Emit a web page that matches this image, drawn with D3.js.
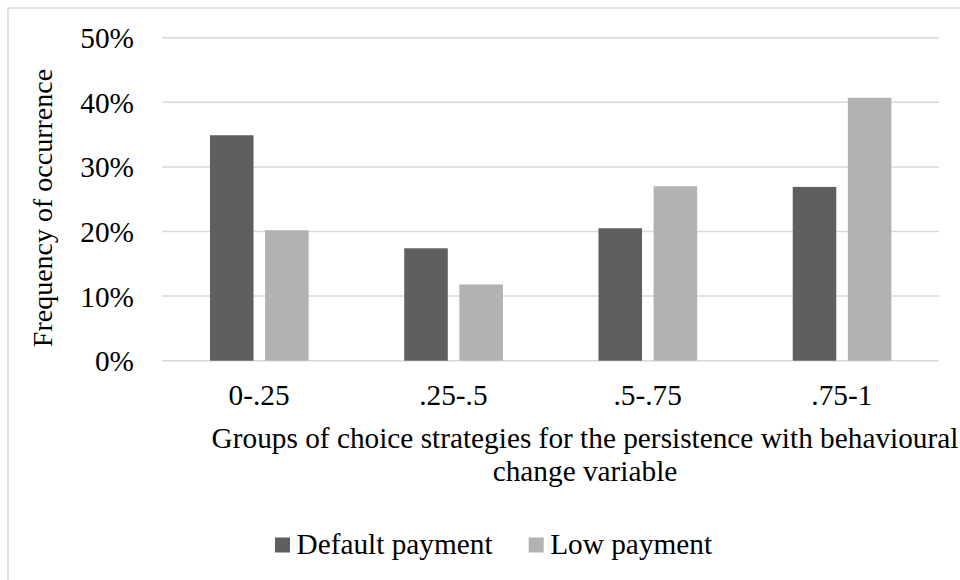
<!DOCTYPE html>
<html>
<head>
<meta charset="utf-8">
<script src="https://cdn.jsdelivr.net/npm/d3@7"></script>
<style>
  html, body { margin: 0; padding: 0; background: #fff; }
  svg text { font-family: "Liberation Serif", "Times New Roman", serif; fill: #000; }
</style>
</head>
<body>
<svg id="chart" width="960" height="580"></svg>
<script>
const categories = ["0-.25", ".25-.5", ".5-.75", ".75-1"];
const seriesNames = ["Default payment", "Low payment"];
const defaultPayment = [0.349, 0.174, 0.205, 0.269];
const lowPayment = [0.202, 0.118, 0.270, 0.407];
const yTicks = [0, 0.1, 0.2, 0.3, 0.4, 0.5];
const colors = ["#5f5f5f", "#b2b2b2"];
const yTitle = "Frequency of occurrence";
const xTitleLines = ["Groups of choice strategies for the persistence with behavioural", "change variable"];

const svg = d3.select("#chart");
const FS = 29.3;

// outer chart border
svg.append("rect")
  .attr("x", 8).attr("y", 8).attr("width", 1000).attr("height", 620)
  .attr("fill", "none").attr("stroke", "#d9d9d9").attr("stroke-width", 1.5);

const plot = { left: 162, right: 939, top: 37.7, bottom: 360.7 };

const y = d3.scaleLinear().domain([0, 0.5]).range([plot.bottom, plot.top]);
const x0 = d3.scaleBand().domain(categories).range([plot.left, plot.right]).paddingInner(0).paddingOuter(0);
const bw = x0.bandwidth();
const x1 = d3.scaleBand().domain(seriesNames).range([0.247 * bw, 0.755 * bw]).paddingInner(0.21).paddingOuter(0);
const color = d3.scaleOrdinal().domain(seriesNames).range(colors);

// gridlines
const yAxis = d3.axisLeft(y).tickValues(yTicks).tickFormat(d3.format(".0%")).tickSize(0).tickPadding(0);
const gGrid = svg.append("g");
gGrid.selectAll("line").data(yTicks).join("line")
  .attr("x1", plot.left).attr("x2", plot.right)
  .attr("y1", d => y(d)).attr("y2", d => y(d))
  .attr("stroke", "#d9d9d9").attr("stroke-width", 1.5);

// y axis labels
const gy = svg.append("g").attr("transform", `translate(134,0)`).call(yAxis);
gy.select(".domain").remove();
gy.selectAll("text").attr("font-size", FS).attr("font-family", "Liberation Serif").attr("x", 0).attr("dy", "0.34em").attr("fill", "#000");

// bars
const data = categories.map((c, i) => ({ cat: c, values: [
  { name: seriesNames[0], value: defaultPayment[i] },
  { name: seriesNames[1], value: lowPayment[i] }
]}));

const groups = svg.append("g").selectAll("g").data(data).join("g")
  .attr("transform", d => `translate(${x0(d.cat)},0)`);
groups.selectAll("rect").data(d => d.values).join("rect")
  .attr("x", d => x1(d.name))
  .attr("width", x1.bandwidth())
  .attr("y", d => y(d.value))
  .attr("height", d => y(0) - y(d.value))
  .attr("fill", d => color(d.name));

// x axis labels
const xAxis = d3.axisBottom(x0).tickSize(0).tickPadding(0);
const gx = svg.append("g").attr("transform", `translate(0,${plot.bottom})`).call(xAxis);
gx.select(".domain").remove();
gx.selectAll("text").attr("font-size", FS).attr("font-family", "Liberation Serif").attr("y", 44.5).attr("dy", 0).attr("fill", "#000");

// y title
svg.append("text")
  .attr("transform", "translate(52,208) rotate(-90)")
  .attr("text-anchor", "middle")
  .attr("font-size", 28)
  .text(yTitle);

// x title
const xt = svg.append("text").attr("text-anchor", "middle").attr("font-size", FS);
xTitleLines.forEach((t, i) => {
  xt.append("tspan").attr("x", 585).attr("y", 447.5 + i * 33).text(t);
});

// legend
const legend = svg.append("g");
const legendX = [275, 528.7];
seriesNames.forEach((s, i) => {
  const g = legend.append("g").attr("transform", `translate(${legendX[i]},0)`);
  g.append("rect").attr("x", 0).attr("y", 537.5).attr("width", 15).attr("height", 15).attr("fill", colors[i]);
  g.append("text").attr("x", 21.5).attr("y", 553.5).attr("font-size", FS).text(s);
});
</script>
</body>
</html>
